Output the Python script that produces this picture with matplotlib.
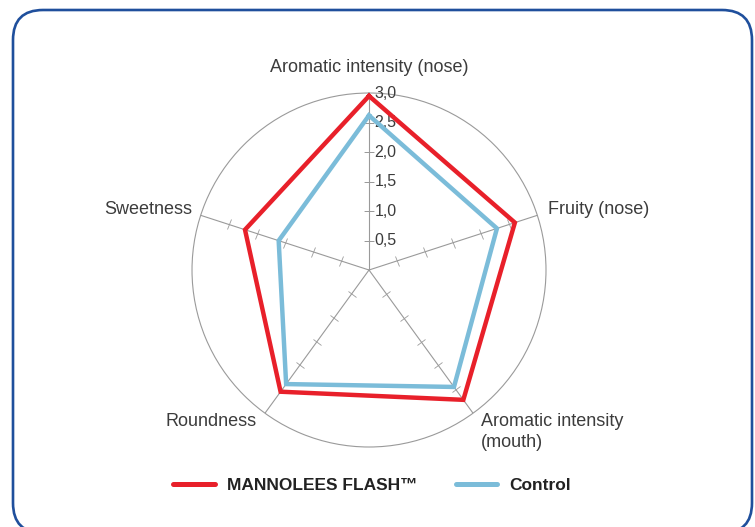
import numpy as np
import matplotlib
matplotlib.use('Agg')
import matplotlib.pyplot as plt
from matplotlib.patches import FancyBboxPatch
from matplotlib.markers import MarkerStyle
from matplotlib.transforms import Affine2D, IdentityTransform
from matplotlib.lines import Line2D

plt.rcParams['font.family'] = ['Liberation Sans', 'DejaVu Sans']

categories = ['Aromatic intensity (nose)', 'Fruity (nose)', 'Aromatic intensity\n(mouth)',
              'Roundness', 'Sweetness']
mannolees = [2.95, 2.60, 2.72, 2.55, 2.21]
control = [2.62, 2.28, 2.45, 2.39, 1.61]
scale_ticks = [0.5, 1.0, 1.5, 2.0, 2.5, 3.0]
scale_labels = ['0,5', '1,0', '1,5', '2,0', '2,5', '3,0']

red = '#e8202a'
blue = '#7bbcd9'
grey = '#9a9a9a'
text_col = '#3c3c3c'

fig = plt.figure(figsize=(7.55, 5.27), dpi=100)

# rounded frame (pixel coords)
box = FancyBboxPatch((13, -6), 739, 523, boxstyle='round,pad=0,rounding_size=30',
                     transform=IdentityTransform(), fill=False, edgecolor='#1f4f9c', lw=1.9)
fig.add_artist(box)

ax = fig.add_axes([0.2543, 0.1518, 0.4689, 0.6717], projection='polar')
ax.set_theta_offset(np.pi / 2)
ax.set_theta_direction(-1)
ax.set_ylim(0, 3)

angles = np.arange(len(categories)) * 2 * np.pi / len(categories)
ax.set_xticks(angles)
ax.set_xticklabels([])
ax.set_yticks([])
ax.xaxis.grid(True, color=grey, lw=0.8)
ax.spines['polar'].set_color(grey)
ax.spines['polar'].set_linewidth(0.8)
ax.patch.set_alpha(0)

# tick marks on each spoke
for a in angles:
    deg = 90 - np.degrees(a)
    m = MarkerStyle('_', transform=Affine2D().rotate_deg(deg - 90))
    ax.plot([a] * 5, scale_ticks[:5], ls='none', marker=m, ms=7, mew=0.6, color=grey)

# scale labels on the top spoke
for r, lab in zip(scale_ticks, scale_labels):
    ax.annotate(lab, (0, r), xytext=(4, 0), textcoords='offset points',
                ha='left', va='center', fontsize=11.5, color=text_col)

closed = np.append(angles, angles[0])
ax.plot(closed, mannolees + mannolees[:1], color=red, lw=3.2, solid_joinstyle='miter', zorder=5)
ax.plot(closed, control + control[:1], color=blue, lw=3.2, solid_joinstyle='miter', zorder=4)

# category labels
label_pos = [(0, 'center', 'bottom', (0, 12)),
             (1, 'left', 'center', (8, 4)),
             (2, 'left', 'top', (6, 0)),
             (3, 'right', 'center', (-6, -6)),
             (4, 'right', 'center', (-6, 4))]
for i, ha, va, off in label_pos:
    ax.annotate(categories[i], (angles[i], 3.0), xytext=off, textcoords='offset points',
                ha=ha, va=va, fontsize=13, color=text_col, annotation_clip=False,
                linespacing=1.3)

handles = [Line2D([], [], color=red, lw=3.6, solid_capstyle='round'),
           Line2D([], [], color=blue, lw=3.6, solid_capstyle='round')]
fig.legend(handles, ['MANNOLEES FLASH\u2122', 'Control'], loc='center',
           bbox_to_anchor=(0.493, 0.079), ncol=2, frameon=False, handlelength=2.4,
           columnspacing=2.2, handletextpad=0.7,
           prop={'weight': 'bold', 'size': 12.5})
for t in fig.legends[0].get_texts():
    t.set_color('#222222')

fig.savefig('out.png', dpi=100)
